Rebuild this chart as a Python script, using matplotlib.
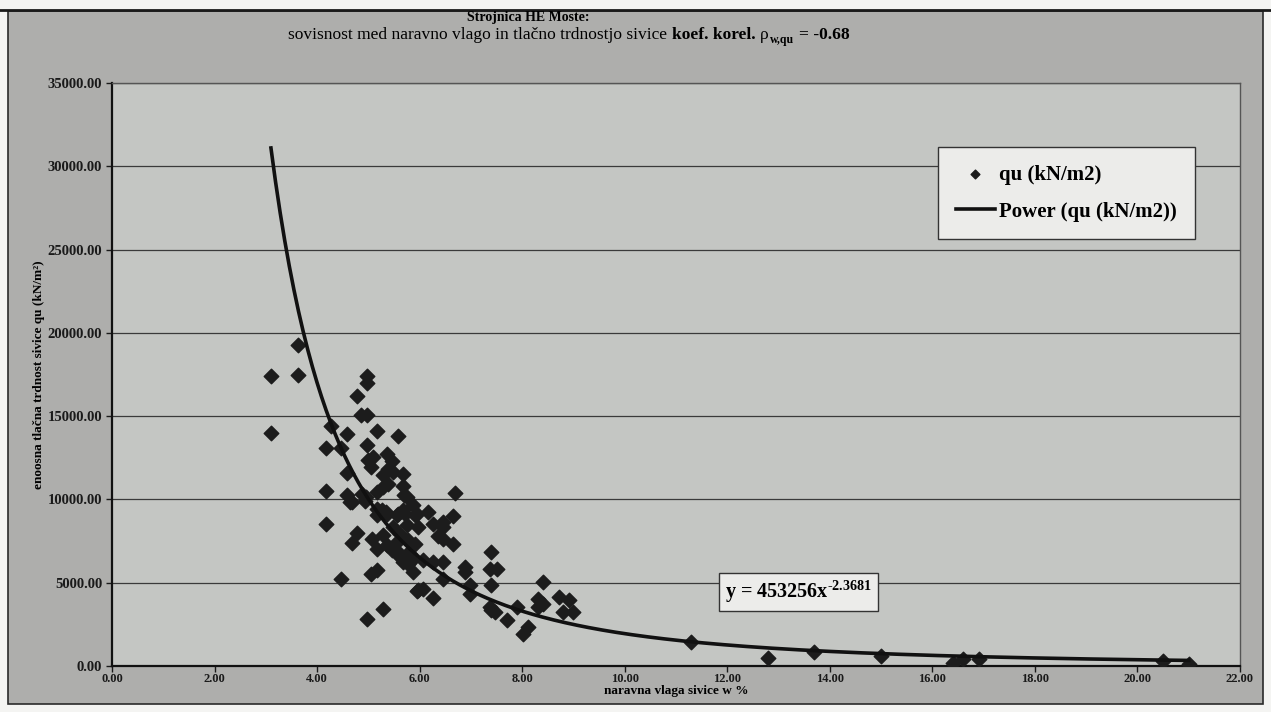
import numpy as np
import matplotlib
matplotlib.use("Agg")
import matplotlib.pyplot as plt
from matplotlib.patches import Rectangle

plt.rcParams['font.family'] = ['Liberation Serif', 'DejaVu Serif']
plt.rcParams['mathtext.fontset'] = 'custom'
plt.rcParams['mathtext.rm'] = 'Liberation Serif:bold'
plt.rcParams['mathtext.it'] = 'Liberation Serif:bold'
plt.rcParams['mathtext.bf'] = 'Liberation Serif:bold'

# ==========================================
# Podatki (odčitani s slike)
# ==========================================
vlaga_w = [
    3.10, 3.10, 3.62, 3.62, 4.98, 4.98, 4.77, 4.86, 4.98, 4.27,
    4.59, 5.17, 5.57, 4.18, 4.47, 4.97, 5.37, 5.00, 5.10, 5.47,
    5.06, 5.38, 5.28, 5.49, 5.67, 4.58, 5.38, 5.28, 5.16, 5.67,
    4.18, 4.59, 4.68, 4.87, 4.95, 5.70, 5.76, 5.88, 5.16, 5.26,
    5.34, 5.58, 5.71, 5.94, 4.65, 4.93, 4.17, 4.77, 4.68, 5.08,
    5.28, 5.17, 5.36, 5.46, 5.55, 5.62, 5.68, 5.78, 5.88, 5.06,
    5.17, 4.47, 5.94, 5.28, 4.97, 5.16, 5.36, 5.55, 5.75, 5.91,
    5.49, 5.62, 5.78, 5.91, 5.75, 5.62, 5.85, 6.17, 6.66, 6.27,
    6.46, 6.46, 5.68, 5.97, 6.36, 6.46, 6.66, 5.81, 6.07, 6.27,
    6.46, 6.46, 6.89, 6.89, 7.39, 7.37, 7.50, 7.39, 6.98, 6.98,
    5.97, 6.07, 6.27, 7.37, 7.47, 7.40, 7.70, 8.12, 8.02, 7.89,
    8.41, 8.31, 8.41, 8.31, 8.71, 8.92, 8.80, 9.00, 6.69,
    11.30, 12.80, 13.70, 15.00, 16.40, 16.60, 16.90, 20.50, 21.00,
]
qu = [
    17400, 14000, 19300, 17500, 17400, 17000, 16200, 15050, 15050, 14400,
    13900, 14100, 13800, 13100, 13100, 13250, 12700, 12350, 12550, 12300,
    11950, 11850, 11450, 11650, 11500, 11600, 10900, 10750, 10450, 10800,
    10500, 10250, 9850, 10300, 10150, 10250, 10150, 9650, 9450, 9350,
    9250, 9100, 9150, 9100, 9850, 9900, 8500, 8000, 7400, 7600,
    7850, 7050, 7250, 6950, 7450, 6750, 6250, 6150, 5650, 5550,
    5750, 5200, 4500, 3450, 2850, 9050, 9150, 9050, 8450, 9050,
    8350, 7950, 7550, 7350, 6750, 6550, 6350, 9250, 9000, 8550,
    8650, 8350, 9350, 8350, 7800, 7650, 7350, 6750, 6350, 6250,
    6250, 5250, 5950, 5650, 6850, 5850, 5850, 4850, 4850, 4350,
    4550, 4650, 4100, 3550, 3250, 3350, 2750, 2350, 1950, 3550,
    5050, 4050, 3750, 3550, 4150, 3950, 3250, 3250, 10400,
    1450, 500, 850, 600, 200, 450, 400, 300, 100,
]

# power trendline (Excel): y = a * x^b
trend_a = 453256
trend_b = -2.3681

x_ticks = [0, 2, 4, 6, 8, 10, 12, 14, 16, 18, 20, 22]
y_ticks = [0, 5000, 10000, 15000, 20000, 25000, 30000, 35000]

# ==========================================
# Slika
# ==========================================
fig = plt.figure(figsize=(12.71, 7.12), dpi=100)
fig.patch.set_facecolor('#f4f4f2')

# sivo ozadje grafa (skeniran papir) - posebna os v ozadju
bgax = fig.add_axes([0, 0, 1, 1], zorder=-5)
bgax.set_xlim(0, 1271)
bgax.set_ylim(712, 0)
bgax.axis('off')
bgax.add_patch(Rectangle((8, 11), 1255, 693, facecolor='#aeaeac', edgecolor='#2a2a2a',
                         linewidth=1.2))
bgax.plot([0, 1271], [10, 10], color='#1a1a1a', linewidth=2.0)

ax = fig.add_axes([112 / 1271, 46 / 712, 1128 / 1271, 583 / 712])
ax.set_facecolor('#c4c6c3')

x = np.array(vlaga_w)
y = np.array(qu)
ax.scatter(x, y, marker='D', s=55, color='#1c1c1c', edgecolors='#1c1c1c', zorder=3,
           label='qu (kN/m2)')

xs = np.linspace(x.min(), x.max(), 400)
ax.plot(xs, trend_a * xs ** trend_b, color='#111111', linewidth=2.6, zorder=4,
        label='Power (qu (kN/m2))')

ax.set_xlim(0, 22)
ax.set_ylim(0, 35000)
ax.set_xticks(x_ticks)
ax.set_yticks(y_ticks)
ax.set_xticklabels([f"{v:.2f}" for v in x_ticks], fontsize=9, fontweight='bold')
ax.set_yticklabels([f"{v:.2f}" for v in y_ticks], fontsize=10.5, fontweight='bold')
ax.tick_params(axis='both', direction='out', length=4, width=1, colors='#1a1a1a')
ax.tick_params(axis='x', pad=1)
ax.tick_params(axis='y', pad=3)
ax.yaxis.grid(True, color='#3a3a3a', linewidth=0.9)
ax.set_axisbelow(True)
for side in ['left', 'bottom']:
    ax.spines[side].set_linewidth(1.6)
    ax.spines[side].set_color('#111111')
for side in ['top', 'right']:
    ax.spines[side].set_linewidth(1.0)
    ax.spines[side].set_color('#555555')

ax.set_xlabel('naravna vlaga sivice w %', fontsize=9.5, fontweight='bold', labelpad=0)
ax.set_ylabel('enoosna tlačna trdnost sivice qu (kN/m²)', fontsize=9.5,
              fontweight='bold', labelpad=2)

# naslov
fig.text(528 / 1271, 1 - 17 / 712, 'Strojnica HE Moste:', ha='center', va='center',
         fontsize=10, fontweight='bold')
t1 = fig.text(288 / 1271, 1 - 43 / 712, 'sovisnost med naravno vlago in tlačno trdnostjo sivice',
              ha='left', va='bottom', fontsize=12.5)
t2 = ax.annotate('koef. korel.', xy=(1, 0), xycoords=t1, xytext=(3.5, 0),
                 textcoords='offset points', ha='left', va='bottom', fontsize=12.5,
                 fontweight='bold', annotation_clip=False)
t3 = ax.annotate('ρ', xy=(1, 0), xycoords=t2, xytext=(3.5, 0),
                 textcoords='offset points', ha='left', va='bottom', fontsize=12.5,
                 annotation_clip=False)
t4 = ax.annotate('w,qu', xy=(1, 0), xycoords=t3, xytext=(0.5, -2),
                 textcoords='offset points', ha='left', va='bottom', fontsize=8.5,
                 fontweight='bold', annotation_clip=False)
ax.annotate('= -0.68', xy=(1, 0), xycoords=t4, xytext=(3.5, 2),
            textcoords='offset points', ha='left', va='bottom', fontsize=12.5,
            fontweight='bold', annotation_clip=False)

leg = ax.legend(loc='upper right', bbox_to_anchor=(0.960, 0.890), borderaxespad=0,
                prop={'weight': 'bold', 'size': 15}, frameon=True, fancybox=False,
                borderpad=0.85, labelspacing=0.8, handlelength=1.9, handletextpad=0.2,
                markerscale=0.6)
leg.get_frame().set_facecolor('#ececea')
leg.get_frame().set_edgecolor('#333333')
leg.get_frame().set_alpha(1)

# enačba trendne črte
ax.text(11.95, 4450, r'y = 453256x$^{\text{-2.3681}}$', fontsize=14.5, fontweight='bold',
        ha='left', va='center', zorder=5,
        bbox=dict(boxstyle='square,pad=0.3', facecolor='#ececea', edgecolor='#333333'))

plt.savefig('out.png', dpi=100)
